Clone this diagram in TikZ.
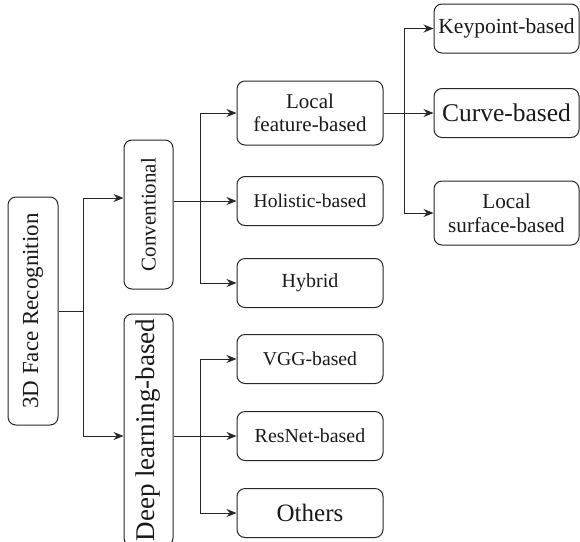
\documentclass[tikz,border=0pt]{standalone}
\usepackage{fontspec}
\setmainfont{Liberation Serif}
\usetikzlibrary{arrows.meta}
\begin{document}
\begin{tikzpicture}[
            x=1pt, y=-1pt,
            box/.style={draw=black!85, line width=1pt, rounded corners=8pt, align=center, inner sep=0pt, text=black!90},
            vbox/.style={box, rotate=90, minimum height=49pt},
            hbox/.style={box, minimum width=146pt, minimum height=49pt},
            arr/.style={draw=black!85, line width=1pt, -{Stealth[length=10pt,width=8pt]}},
        ]
        \useasboundingbox (0,0) rectangle (580,541);
        \node[vbox, minimum width=228pt, minimum height=50pt, font=\fontsize{23}{27}\selectfont] (root) at (33,311) {3D Face Recognition};
        \node[vbox, minimum width=149pt, font=\fontsize{21}{25}\selectfont] (conv) at (148.5,214.5) {Conventional};
        \node[vbox, minimum width=232pt, font=\fontsize{27}{31}\selectfont] (deep) at (148.5,430) {Deep learning-based};
        \node[hbox, minimum height=64pt, font=\fontsize{21}{23.5}\selectfont] (loc) at (310,113) {Local\\feature-based};
        \node[hbox, font=\fontsize{19.5}{23}\selectfont] (hol) at (310,201) {Holistic-based};
        \node[hbox, font=\fontsize{20}{23}\selectfont] (hyb) at (310,283) {Hybrid};
        \node[hbox, font=\fontsize{19.7}{23}\selectfont] (vgg) at (310,359) {VGG-based};
        \node[hbox, font=\fontsize{19.9}{23}\selectfont] (res) at (310,436) {ResNet-based};
        \node[hbox, font=\fontsize{25}{28}\selectfont] (oth) at (310,513) {Others};
        \node[hbox, minimum width=145pt, font=\fontsize{21.5}{24}\selectfont] (key) at (506.5,28.5) {Keypoint-based};
        \node[hbox, minimum width=145pt, font=\fontsize{25.5}{28}\selectfont] (cur) at (506.5,113) {Curve-based};
        \node[hbox, minimum width=145pt, minimum height=64pt, font=\fontsize{21.2}{24}\selectfont] (surf) at (506.5,213) {Local\\surface-based};
        \draw[arr] (root.south) -- ++(25,0) |- ([yshift=16.5pt]conv.north);
        \draw[arr] (root.south) -- ++(25,0) |- ([yshift=-6pt]deep.north);
        \draw[arr] (conv.south |- hol) -- (hol.west);
        \coordinate (cj) at (200,201);
        \draw[arr] (cj) |- (loc.west);
        \draw[arr] (cj) |- (hyb.west);
        \draw[arr] (deep.south |- res) -- (res.west);
        \coordinate (dj) at (200,436);
        \draw[arr] (dj) |- (vgg.west);
        \draw[arr] (dj) |- (oth.west);
        \draw[arr] (loc.east) -- (cur.west);
        \coordinate (lj) at (404,113);
        \draw[arr] (lj) |- (key.west);
        \draw[arr] (lj) |- (surf.west);
        \end{tikzpicture}
\end{document}
